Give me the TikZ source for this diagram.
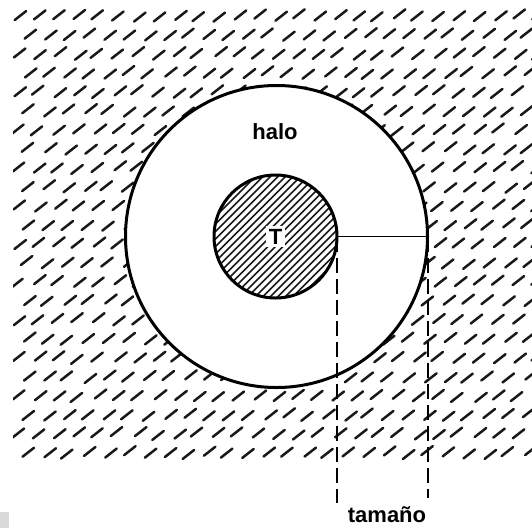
\documentclass[tikz,border=0pt]{standalone}
\usepackage{fontspec}
\setmainfont{Liberation Sans}
\usetikzlibrary{calc}
\tikzset{
  bgdash/.style={line width=2.5pt, line cap=round, black!90},
  tumhatch/.style={line width=1.6pt, black!90},
  ring/.style={line width=3pt},
  measure/.style={line width=1.8pt},
  measuredash/.style={line width=1.8pt, dash pattern=on 15pt off 6pt},
  lbl/.style={font=\bfseries\fontsize{22}{26}\selectfont, inner sep=1pt}
}
\begin{document}
\begin{tikzpicture}[x=1pt,y=-1pt]
\useasboundingbox (0,0) rectangle (532,528);
\fill[white] (0,0) rectangle (532,528);
\fill[black!15] (0,512) rectangle (9,528);
% coordinates
\coordinate (C) at (276.5,236.5);
\coordinate (Ct) at (275.5,236.5);
% background dashes outside halo
\begin{scope}[even odd rule]
  \clip (13,8) rectangle (532,463) (C) circle[radius=151pt];
  \pgfmathsetseed{11}
  \foreach \r in {0,...,24}{
    \foreach \c in {0,...,27}{
      \pgfmathsetmacro\jx{2.5*rand}
      \pgfmathsetmacro\jy{2*rand}
      \pgfmathsetmacro\xx{13+\c*20+mod(\r,2)*10+\jx}
      \pgfmathsetmacro\yy{20+\r*19+\jy}
      \draw[bgdash] (\xx,\yy) -- ++(11.5,-9);
    }
  }
\end{scope}
% tumour hatch
\begin{scope}
  \clip (Ct) circle[radius=61.5pt];
  \foreach \i in {-140,-132.5,...,140}{
    \draw[tumhatch] ($(Ct)+(\i-80,80)$) -- ($(Ct)+(\i+80,-80)$);
  }
\end{scope}
% circles
\node[circle, draw, ring, minimum size=302pt, inner sep=0pt] (halo) at (C) {};
\node[circle, draw, ring, minimum size=123pt, inner sep=0pt] (tum) at (Ct) {};
% labels
\node[lbl] (halolbl) at (275,132) {halo};
\node[lbl, fill=white, inner sep=2.5pt] (T) at (Ct) {T};
% measure
\coordinate (rT) at (337,236.5);
\coordinate (rH) at (428,236.5);
\coordinate (dL) at (337,503);
\coordinate (dR) at (428,498);
\draw[measure] (rT) -- (rH);
\draw[measuredash] (rT) -- (dL);
\draw[measuredash] (rH) -- (dR);
\node[lbl, anchor=base] (tam) at (387,522) {tamaño};
\end{tikzpicture}
\end{document}
